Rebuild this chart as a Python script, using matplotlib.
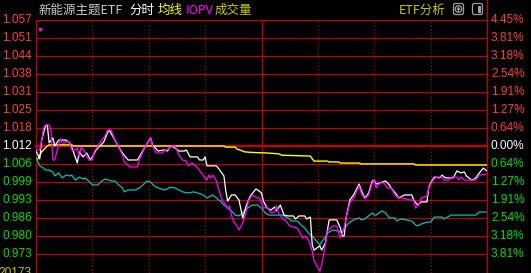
import matplotlib
matplotlib.use("Agg")
import matplotlib.pyplot as plt
from matplotlib.patches import FancyBboxPatch, Circle, Rectangle, Polygon

# ---------------- data ----------------
PREV_CLOSE = 1.012
PCT_STEP = 0.6357  # percent between grid lines

left_labels = ["1.057", "1.051", "1.044", "1.038", "1.031", "1.025", "1.018",
               "1.012", "1.006", "0.999", "0.993", "0.986", "0.980", "0.973"]
right_labels = ["4.45%", "3.81%", "3.18%", "2.54%", "1.91%", "1.27%", "0.64%",
                "0.00%", "0.64%", "1.27%", "1.91%", "2.54%", "3.18%", "3.81%"]
grid_steps = [7, 6, 5, 4, 3, 2, 1, 0, -1, -2, -3, -4, -5, -6]
volume_label = "20173"

price_min = [0,2,3,5,6,7,9,10,12,16,18,19,22,23,25,27,29,30,32,36,38,39,42,44,46,49,54,58,61,62,
             65,68,70,71,72,74,76,79,80,82,86,87,89,90,91,96,97,100,101,102,104,106,108,110,112,114,
             117,118,120,121,123,125,127,128,130,132,134,137,138,140,143,144,146,147,148,151,152,154,
             155,156,160,162,163,164,165,167,169,172,173,175,177,179,180,181,183,186,188,189,192,193,
             196,200,201,203,205,208,209,210,212,215,216,218,222,224,226,228,229,232,234,236,238,240]
price = [1.0102,1.0074,1.0141,1.0191,1.0195,1.0131,1.0149,1.0120,1.0141,1.0141,1.0131,1.0116,1.0059,
         1.0099,1.0081,1.0095,1.0070,1.0081,1.0106,1.0134,1.0166,1.0177,1.0141,1.0116,1.0095,1.0070,
         1.0070,1.0116,1.0149,1.0124,1.0102,1.0106,1.0102,1.0113,1.0120,1.0113,1.0102,1.0102,1.0106,
         1.0081,1.0081,1.0070,1.0070,1.0081,1.0049,1.0049,1.0041,1.0013,0.9959,0.9923,0.9945,0.9945,
         0.9927,0.9863,0.9909,0.9941,0.9966,0.9963,0.9952,0.9923,0.9898,0.9891,0.9902,0.9888,0.9909,
         0.9873,0.9870,0.9870,0.9859,0.9870,0.9870,0.9859,0.9866,0.9766,0.9748,0.9763,0.9748,0.9773,
         0.9816,0.9856,0.9856,0.9827,0.9798,0.9798,0.9863,0.9927,0.9945,0.9984,0.9963,0.9934,0.9952,
         0.9995,0.9998,0.9984,0.9988,0.9995,0.9981,0.9970,0.9945,0.9934,0.9945,0.9945,0.9927,0.9909,
         0.9920,0.9920,0.9970,0.9988,1.0009,1.0006,1.0016,1.0006,1.0006,1.0031,1.0024,1.0027,1.0013,
         0.9998,1.0006,1.0024,1.0041,1.0031]

iopv_min = [0,2,3,4,5,7,8,9,10,12,13,14,15,17,18,19,21,22,23,24,26,28,30,31,34,37,38,40,42,44,
            46,47,50,54,55,58,61,62,64,67,69,70,72,74,76,78,80,81,83,85,86,88,90,91,92,93,94,96,97,99,
            101,102,103,104,105,107,108,110,112,113,115,118,119,120,121,123,125,127,128,129,
            131,133,135,139,142,143,145,147,148,151,152,154,155,158,160,162,164,165,167,169,
            172,173,175,177,179,180,181,183,185,187,189,191,193,195,199,201,202,204,205,208,
            209,211,213,216,217,220,221,224,225,226,228,234,236,240]
iopv = [1.0106,1.0106,1.0138,1.0184,1.0195,1.0195,1.0174,1.0070,1.0070,1.0124,
        1.0145,1.0131,1.0131,1.0138,1.0131,1.0106,1.0106,1.0113,1.0081,1.0116,
        1.0099,1.0070,1.0070,1.0099,1.0131,1.0159,1.0177,1.0177,1.0141,1.0116,
        1.0088,1.0063,1.0045,1.0045,1.0070,1.0116,1.0149,1.0120,1.0095,1.0095,
        1.0106,1.0106,1.0120,1.0120,1.0088,1.0070,1.0066,1.0049,1.0059,1.0049,
        1.0041,1.0024,1.0006,0.9998,1.0016,1.0006,1.0016,0.9995,0.9970,0.9927,
        0.9909,0.9895,0.9906,0.9873,0.9852,0.9834,0.9820,0.9845,0.9888,0.9923,
        0.9945,0.9934,0.9934,0.9916,0.9898,0.9902,0.9881,0.9884,0.9906,0.9881,
        0.9863,0.9852,0.9834,0.9827,0.9791,0.9798,0.9784,0.9745,0.9709,0.9673,
        0.9695,0.9766,0.9816,0.9834,0.9834,0.9791,0.9827,0.9863,0.9916,0.9934,
        0.9977,0.9952,0.9931,0.9945,0.9988,0.9998,0.9970,0.9988,0.9988,0.9970,
        0.9970,0.9945,0.9934,0.9934,0.9927,0.9927,0.9898,0.9913,0.9934,0.9941,
        0.9970,0.9995,1.0009,1.0009,0.9998,0.9998,1.0009,1.0009,0.9998,1.0009,
        0.9998,0.9998,1.0016,1.0020]
iopv_open_min = [2]
iopv_open = [1.0538]

index_min = [0,2,4,5,7,9,10,12,14,16,18,19,21,23,25,26,28,30,33,35,37,40,42,44,46,47,49,53,55,57,
             59,61,63,65,68,70,71,74,76,78,81,84,86,89,91,93,94,96,98,100,102,104,106,108,110,112,
             115,118,120,122,124,127,131,134,136,139,141,143,145,148,151,152,154,155,158,161,163,
             164,167,169,172,173,175,177,179,180,181,184,186,188,191,192,194,197,200,202,203,205,
             208,210,212,216,217,219,221,230,234,236,240]
index_line = [1.0077,1.0049,1.0041,1.0034,1.0034,1.0027,1.0013,1.0024,1.0006,1.0016,
              1.0013,1.0016,0.9998,1.0009,1.0002,1.0006,0.9995,0.9981,0.9981,0.9995,
              1.0002,0.9995,0.9995,0.9981,0.9970,0.9956,0.9963,0.9963,0.9970,0.9981,
              0.9995,0.9991,0.9977,0.9970,0.9963,0.9966,0.9973,0.9970,0.9963,0.9956,
              0.9952,0.9956,0.9952,0.9945,0.9934,0.9941,0.9945,0.9934,0.9923,0.9909,
              0.9898,0.9888,0.9873,0.9870,0.9881,0.9895,0.9909,0.9909,0.9898,0.9881,
              0.9873,0.9873,0.9873,0.9863,0.9852,0.9852,0.9838,0.9827,0.9809,0.9791,
              0.9766,0.9777,0.9795,0.9809,0.9820,0.9816,0.9809,0.9827,0.9848,0.9856,
              0.9863,0.9856,0.9859,0.9870,0.9881,0.9873,0.9873,0.9888,0.9881,0.9863,
              0.9863,0.9852,0.9859,0.9856,0.9852,0.9838,0.9834,0.9841,0.9848,0.9848,
              0.9866,0.9866,0.9859,0.9866,0.9873,0.9873,0.9873,0.9884,0.9884]

avg_min = [1,3,6,7,19,20,100,101,106,107,110,111,115,123,129,131,146,147,148,155,156,161,162,
           172,173,201,202,240]
avg_price = [1.0074,1.0099,1.0120,1.0124,1.0124,1.0120,1.0120,1.0116,1.0116,1.0109,1.0102,1.0099,
             1.0097,1.0095,1.0092,1.0087,1.0084,1.0074,1.0066,1.0066,1.0063,1.0063,1.0059,1.0059,
             1.0056,1.0056,1.0052,1.0052]

# ---------------- styling ----------------
W, H = 531, 273
RED = "#c80000"
UP = "#ff3c3c"
DOWN = "#00e000"
WHITE = "#ffffff"
YEL = "#ffff00"
OLIVE = "#c8c800"
MAG = "#ff00ff"
CYAN = "#00c0c0"
NUMFONT = ["Liberation Sans", "DejaVu Sans"]
CJK = ["Noto Sans CJK SC", "DejaVu Sans"]

fig = plt.figure(figsize=(W / 100, H / 100), dpi=100, facecolor="black")

# pixel overlay for header
ov = fig.add_axes([0, 0, 1, 1])
ov.set_xlim(0, W)
ov.set_ylim(H, 0)
ov.set_axis_off()

ax = fig.add_axes([36 / W, 0, 451 / W, 253 / H])
ax.set_facecolor("black")
ax.set_axis_off()
step = PCT_STEP / 100.0
ax.set_xlim(0, 240)
ax.set_ylim(PREV_CLOSE * (1 - 7.056 * step), PREV_CLOSE * (1 + 7 * step))

# grid
for k in grid_steps:
    y = PREV_CLOSE * (1 + k * step)
    ax.axhline(y, color=RED, lw=1.6 if k == 0 else 0.8, clip_on=False, zorder=1)
for m in [30, 60, 90, 150, 180, 210]:
    ax.axvline(m, color=RED, lw=0.8, ls=(0, (1, 2)), zorder=1)
ax.axvline(0, color=RED, lw=0.9, clip_on=False, zorder=1)
ax.axvline(120, color=RED, lw=0.9, zorder=1)
ax.axvline(240, ymin=0, ymax=H / 253, color=RED, lw=0.9, clip_on=False, zorder=1)

# series
ax.plot(index_min, index_line, color=CYAN, lw=0.9, zorder=3)
ax.plot(avg_min, avg_price, color=YEL, lw=1.0, zorder=4)
ax.plot(price_min, price, color=WHITE, lw=0.9, zorder=5)
ax.plot(iopv_min, iopv, color=MAG, lw=0.9, zorder=6)
ax.plot(iopv_open_min, iopv_open, ls="none", marker="s", ms=1.8, color=MAG, mec=MAG, zorder=6)

# axis labels
tr = ax.get_yaxis_transform()
for k, ll, rl in zip(grid_steps, left_labels, right_labels):
    y = PREV_CLOSE * (1 + k * step)
    c = UP if k > 0 else (WHITE if k == 0 else DOWN)
    ax.text(-4 / 451, y, ll, transform=tr, ha="right", va="center", color=c,
            fontsize=8.6, family=NUMFONT, clip_on=False)
    ax.text(1 + 4 / 451, y, rl, transform=tr, ha="left", va="center", color=c,
            fontsize=8.6, family=NUMFONT, clip_on=False)

ov.text(32, 266.5, volume_label, ha="right", va="top", color=OLIVE, fontsize=8.6, family=NUMFONT)

# header
hy = 10
ov.text(38, hy, "新能源主题ETF", ha="left", va="center", color="#c8c8c8", fontsize=9, family=CJK)
ov.text(129, hy, "分时", ha="left", va="center", color=WHITE, fontsize=9, family=CJK)
ov.text(158, hy, "均线", ha="left", va="center", color=YEL, fontsize=9, family=CJK)
ov.text(186, hy, "IOPV", ha="left", va="center", color=MAG, fontsize=9, family=CJK)
ov.text(215, hy, "成交量", ha="left", va="center", color=OLIVE, fontsize=9, family=CJK)
ov.text(399, hy, "ETF分析", ha="left", va="center", color=OLIVE, fontsize=9, family=CJK)

GREY = "#a0a0a0"
ov.add_patch(FancyBboxPatch((453.5, 3.5), 10, 11, boxstyle="round,pad=0,rounding_size=2",
                            fill=False, ec=GREY, lw=0.9))
ov.add_patch(Circle((458.5, 9), 3.3, fill=False, ec=GREY, lw=0.9))
ov.add_patch(Polygon([(456.8, 9.5), (460.2, 9.5), (458.5, 7)], closed=True, fc=GREY, ec=GREY, lw=0.5))
ov.add_patch(Rectangle((458.0, 9.3), 1.0, 2.2, fc=GREY, ec="none"))
ov.add_patch(FancyBboxPatch((472.5, 3.5), 10, 11, boxstyle="round,pad=0,rounding_size=2",
                            fill=False, ec=GREY, lw=0.9))
ov.add_patch(Rectangle((477.5, 5.5), 3.5, 7, fc=GREY, ec="none"))

fig.savefig("out.png", dpi=100, facecolor="black")
